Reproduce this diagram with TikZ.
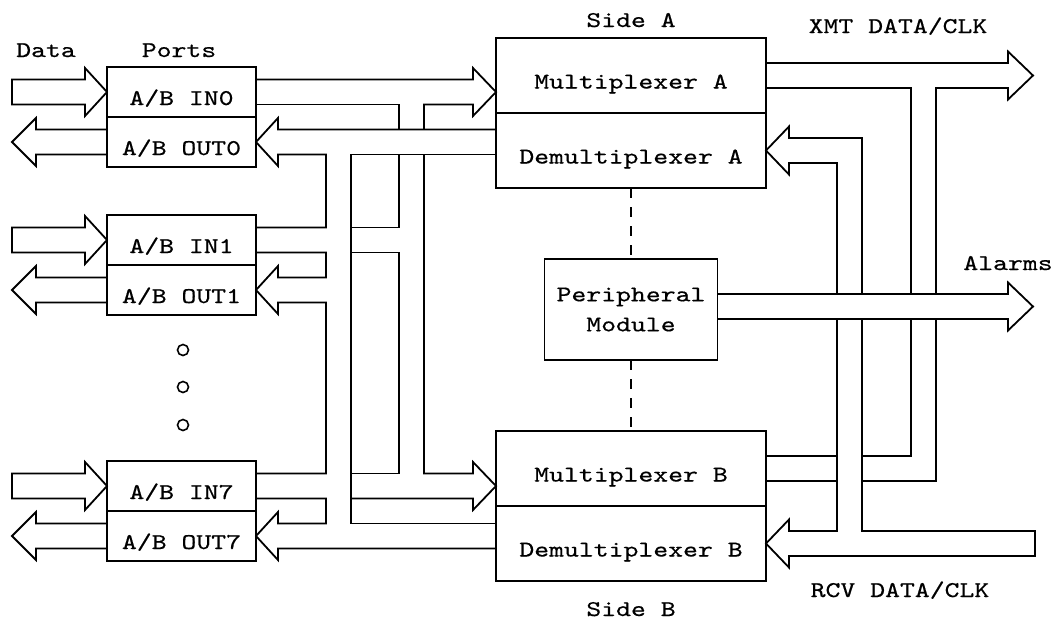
\documentclass[tikz,border=0pt]{standalone}
\usepackage{fontspec}
\usetikzlibrary{positioning}
\newfontfamily\diagfont{lmmono10-regular.otf}[FakeStretch=1.26, FakeBold=0.5]
\newcommand{\dfont}{\diagfont\fontsize{22.5pt}{30pt}\selectfont}
\tikzset{halfbox/.style={draw, line width=1.8pt, outer sep=0pt, inner sep=0pt, minimum width=149pt, minimum height=50pt, text height=26pt, text depth=0pt, font=\dfont},
  sidebox/.style={halfbox, minimum width=270pt, minimum height=75pt},
  lbl/.style={inner sep=0pt, anchor=base, font=\dfont},
  bus/.style={line width=1.8pt, line join=miter},
  portdot/.style={circle, draw, line width=1.6pt, inner sep=0pt, minimum size=11pt}}

\begin{document}
\begin{tikzpicture}[x=1pt,y=-1pt]
\fill[white] (0,0) rectangle (1052,619);
\useasboundingbox (0,0) rectangle (1052,619);

\node[halfbox] (in0) at (181.5,92) {A/B IN0};
\node[halfbox, below=0pt of in0] (out0) {A/B OUT0};
\node[halfbox] (in1) at (181.5,240) {A/B IN1};
\node[halfbox, below=0pt of in1] (out1) {A/B OUT1};
\node[halfbox] (in7) at (181.5,486) {A/B IN7};
\node[halfbox, below=0pt of in7] (out7) {A/B OUT7};

\node[sidebox] (muxA) at (631,75.5) {Multiplexer A};
\node[sidebox, below=0pt of muxA] (demuxA) {Demultiplexer A};
\node[sidebox] (muxB) at (631,468.5) {Multiplexer B};
\node[sidebox, below=0pt of muxB] (demuxB) {Demultiplexer B};
\node[draw, line width=1.8pt, outer sep=0pt, minimum width=173pt, minimum height=101pt, align=center, font=\dfont] (periph) at (631,309.5) {Peripheral\\Module};

\node[lbl] (data) at (46,57) {Data};
\node[lbl] (ports) at (179,57) {Ports};
\node[lbl] (sideA) at (631,27) {Side A};
\node[lbl] (sideB) at (631,616) {Side B};
\node[lbl] (xmt) at (898,33) {XMT DATA/CLK};
\node[lbl] (rcv) at (900,597) {RCV DATA/CLK};
\node[lbl] (alarms) at (1008,270) {Alarms};

\foreach \y [count=\i] in {350,387,425}
  \node[portdot] (dot\i) at (183,\y) {};

\draw[bus, dash pattern=on 10pt off 9pt] (demuxA) -- (periph);
\draw[bus, dash pattern=on 10pt off 9pt] (periph) -- (muxB);

% data in / out at the ports
\foreach \p in {in0,in1,in7}
  \draw[bus] (\p.west) -- ++(-22,-24) -- ++(0,11.5) -- ++(-73,0) -- ++(0,25) -- ++(73,0) -- ++(0,11.5) -- cycle;
\foreach \p in {out0,out1,out7}
  \draw[bus] (\p.west) ++(0,-12.5) -- ++(-71,0) -- ++(0,-11.5) -- ++(-24,24) -- ++(24,24) -- ++(0,-11.5) -- ++(71,0);

% port side buses
\draw[bus] (in0.east) ++(0,-12.5) -- (473,79.5) -- (473,68) -- (in0.east -| muxA.west) -- (473,116) -- (473,104.5) -- (424,104.5) -- (424,129.5);
\draw[bus] (in0.east) ++(0,12.5) -- (399,104.5) -- (399,129.5);
\draw[bus] (496,129.5) -- (278,129.5) -- (278,118) -- (out0.east) -- (278,166) -- (278,154.5) -- (326,154.5) -- (326,227.5) -- (256,227.5);
\draw[bus] (496,154.5) -- (351,154.5) -- (351,523.5) -- (496,523.5);
\draw[bus] (399,154.5) -- (399,227.5) -- (351,227.5);
\draw[bus] (351,252.5) -- (399,252.5) -- (399,473.5) -- (351,473.5);
\draw[bus] (424,154.5) -- (424,473.5) -- (473,473.5) -- (473,462) -- (in7.east -| muxB.west) -- (473,510) -- (473,498.5) -- (351,498.5);
\draw[bus] (in1.east) ++(0,12.5) -- (326,252.5) -- (326,277.5) -- (278,277.5) -- (278,266) -- (out1.east) -- (278,314) -- (278,302.5) -- (326,302.5) -- (326,473.5) -- (256,473.5);
\draw[bus] (in7.east) ++(0,12.5) -- (326,498.5) -- (326,523.5) -- (278,523.5) -- (278,512) -- (out7.east) -- (278,560) -- (278,548.5) -- (496,548.5);

% line side buses
\draw[bus] (muxA.east) ++(0,-12.5) -- (1008,63) -- (1008,51.5) -- (1033,75.5) -- (1008,99.5) -- (1008,88) -- (936,88) -- (936,294);
\draw[bus] (muxA.east) ++(0,12.5) -- (911,88) -- (911,294);
\draw[bus] (862,294) -- (862,138) -- (789,138) -- (789,126.5) -- (demuxA.east) -- (789,174.5) -- (789,163) -- (837,163) -- (837,294);
\draw[bus] (717.5,294) -- (1008,294) -- (1008,282.5) -- (1033,306.5) -- (1008,330.5) -- (1008,319) -- (717.5,319);
\draw[bus] (837,319) -- (837,531) -- (789,531) -- (789,519.5) -- (demuxB.east) -- (789,567.5) -- (789,556) -- (1035,556) -- (1035,531) -- (862,531) -- (862,319);
\draw[bus] (911,319) -- (911,456) -- (862,456);
\draw[bus] (936,319) -- (936,481) -- (862,481);
\draw[bus] (muxB.east) ++(0,-12.5) -- (837,456);
\draw[bus] (muxB.east) ++(0,12.5) -- (837,481);

\end{tikzpicture}
\end{document}
